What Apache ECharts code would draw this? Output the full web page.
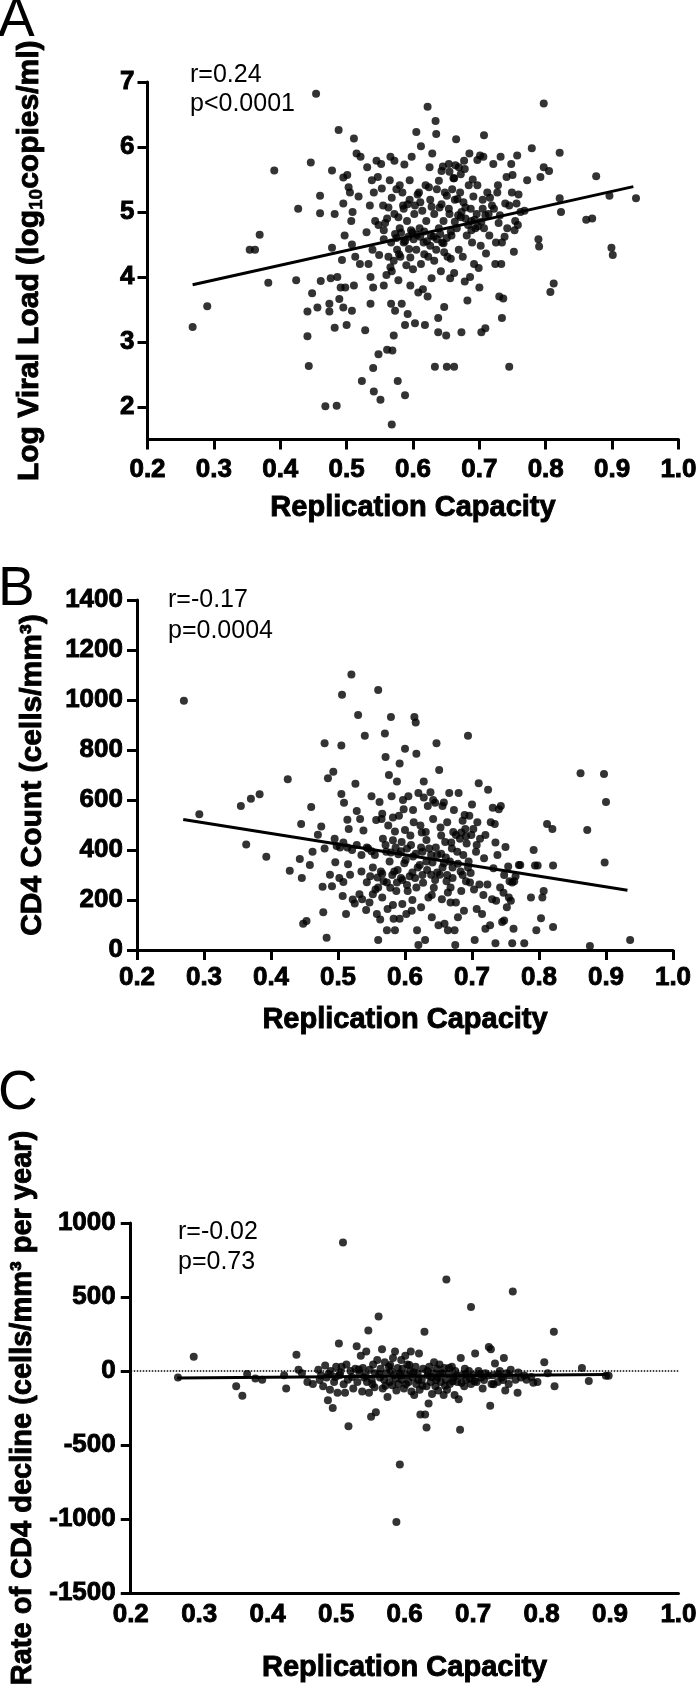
<!DOCTYPE html>
<html><head><meta charset="utf-8">
<script src="https://cdn.jsdelivr.net/npm/echarts@6/dist/echarts.min.js"></script>
<style>html,body{margin:0;padding:0;background:#fff}#c{width:700px;height:1699px}</style>
</head><body><div id="c"></div>
<script>
// ---------- tick labels ----------
const xTicks = [0.2, 0.3, 0.4, 0.5, 0.6, 0.7, 0.8, 0.9, 1.0];
const vlTicks = [2, 3, 4, 5, 6, 7];
const cd4Ticks = [0, 200, 400, 600, 800, 1000, 1200, 1400];
const declineTicks = [-1500, -1000, -500, 0, 500, 1000];

// ---------- Panel A: replication capacity vs log viral load ----------
const vlPoints = [
[0.268,3.23],[0.290,3.55],[0.354,4.42],[0.362,4.42],[0.369,4.65],[0.382,3.91],[0.391,5.64],[0.424,3.95],[0.427,5.05],
[0.441,3.09],[0.443,2.63],[0.441,3.47],[0.446,5.76],[0.448,3.75],[0.454,6.82],[0.456,3.53],[0.460,5.25],[0.460,4.98],
[0.461,3.94],[0.468,2.01],[0.474,3.59],[0.474,3.47],[0.476,3.98],[0.478,5.64],[0.478,4.45],[0.482,4.97],[0.482,3.22],
[0.485,2.02],[0.486,4.00],[0.488,6.26],[0.489,3.66],[0.491,3.84],[0.493,4.26],[0.495,5.13],[0.495,5.53],[0.495,3.53],
[0.497,4.64],[0.498,3.84],[0.500,3.26],[0.501,5.57],[0.503,5.38],[0.505,5.30],[0.507,4.86],[0.508,3.48],[0.508,4.50],
[0.509,5.00],[0.511,6.13],[0.511,3.87],[0.513,4.31],[0.515,5.90],[0.518,5.24],[0.520,4.20],[0.521,5.85],[0.523,2.40],
[0.541,2.24],[0.528,3.18],[0.530,4.69],[0.531,5.69],[0.533,4.20],[0.535,5.10],[0.536,4.00],[0.536,3.59],[0.538,5.49],
[0.539,4.42],[0.540,3.84],[0.540,2.60],[0.541,5.30],[0.543,4.86],[0.545,5.79],[0.547,5.54],[0.548,4.80],[0.548,2.81],
[0.549,4.34],[0.551,2.11],[0.552,5.74],[0.553,5.36],[0.555,5.10],[0.556,4.58],[0.556,3.87],[0.558,4.83],[0.560,4.03],
[0.561,2.88],[0.563,5.07],[0.563,4.31],[0.565,5.49],[0.566,5.85],[0.567,4.53],[0.567,3.59],[0.568,1.73],[0.568,4.09],
[0.569,2.87],[0.571,3.10],[0.572,5.79],[0.572,4.97],[0.573,4.66],[0.573,3.48],[0.575,5.35],[0.576,4.42],[0.577,2.40],
[0.578,4.92],[0.578,3.95],[0.580,5.41],[0.580,4.75],[0.581,4.31],[0.583,3.59],[0.585,5.10],[0.586,4.53],[0.587,5.73],
[0.588,2.18],[0.588,3.26],[0.590,4.18],[0.591,4.86],[0.592,3.43],[0.594,4.43],[0.595,5.19],[0.595,5.49],[0.596,3.87],
[0.598,5.85],[0.599,4.69],[0.600,4.12],[0.602,4.97],[0.603,3.29],[0.605,6.23],[0.605,4.42],[0.607,5.27],[0.608,3.76],
[0.610,4.75],[0.612,6.01],[0.612,4.20],[0.614,5.02],[0.615,3.81],[0.616,4.53],[0.618,3.26],[0.619,5.41],[0.620,4.86],
[0.622,6.62],[0.622,3.70],[0.623,4.31],[0.625,5.69],[0.626,5.19],[0.627,4.64],[0.628,3.98],[0.629,5.90],[0.632,4.97],
[0.633,2.62],[0.634,6.40],[0.635,6.20],[0.635,4.42],[0.636,5.35],[0.638,3.37],[0.638,3.15],[0.639,4.75],[0.640,5.07],
[0.642,4.09],[0.643,5.63],[0.644,4.53],[0.646,4.86],[0.647,3.54],[0.648,5.30],[0.650,3.10],[0.651,2.62],[0.652,4.31],
[0.654,5.74],[0.655,4.97],[0.656,3.98],[0.658,4.64],[0.661,5.52],[0.662,2.62],[0.662,4.06],[0.663,5.19],[0.665,6.12],
[0.666,4.75],[0.669,5.69],[0.669,4.42],[0.671,5.30],[0.672,4.92],[0.673,3.15],[0.675,4.31],[0.677,5.79],[0.678,3.93],
[0.679,5.07],[0.681,4.64],[0.682,3.64],[0.684,5.41],[0.685,5.90],[0.686,4.00],[0.688,4.86],[0.689,4.53],[0.691,5.24],
[0.692,4.20],[0.694,4.75],[0.696,4.97],[0.697,5.41],[0.699,4.14],[0.700,3.84],[0.701,5.87],[0.702,4.48],[0.703,3.15],
[0.705,5.19],[0.707,6.18],[0.707,4.75],[0.709,3.21],[0.710,4.36],[0.712,5.30],[0.714,4.97],[0.715,4.64],[0.719,5.10],
[0.721,5.74],[0.724,4.20],[0.725,4.53],[0.728,5.41],[0.729,4.83],[0.730,3.70],[0.732,5.85],[0.733,4.20],[0.734,4.53],
[0.734,3.37],[0.736,3.67],[0.739,5.13],[0.741,5.54],[0.742,4.75],[0.745,2.62],[0.748,5.74],[0.749,5.30],[0.750,5.57],
[0.752,4.39],[0.753,4.72],[0.754,4.86],[0.756,5.13],[0.757,5.87],[0.759,5.27],[0.762,5.00],[0.768,5.02],[0.772,5.49],
[0.779,5.98],[0.789,4.58],[0.790,4.47],[0.792,5.54],[0.797,5.69],[0.797,6.67],[0.805,5.63],[0.807,3.77],[0.812,3.90],
[0.821,5.91],[0.821,5.21],[0.823,5.00],[0.861,4.88],[0.870,4.90],[0.876,5.55],[0.896,5.25],[0.899,4.45],[0.901,4.34],
[0.936,5.21],
[0.575,4.60],[0.582,4.68],[0.588,4.55],[0.593,4.62],[0.597,4.72],[0.601,4.58],[0.606,4.65],[0.611,4.62],[0.617,4.70],
[0.621,4.55],[0.626,4.48],[0.631,4.62],[0.636,4.58],[0.641,4.66],[0.646,4.52],[0.651,4.60],[0.657,4.70],[0.663,4.85],
[0.668,4.95],[0.673,5.00],[0.679,4.90],[0.683,4.80],[0.688,4.72],[0.693,4.88],[0.698,4.78],[0.703,4.85],[0.709,4.95],
[0.586,5.05],[0.603,5.10],[0.611,5.15],[0.628,5.08],[0.643,5.12],[0.651,5.25],[0.659,5.35],[0.667,5.20],[0.676,5.15],
[0.687,5.05],[0.617,4.35],[0.632,4.25],[0.647,4.38],[0.657,4.28],[0.571,4.25],[0.566,4.15],[0.579,4.35],[0.596,4.30],
[0.556,4.72],[0.561,4.90],[0.568,5.22],[0.584,5.30],[0.592,5.12],[0.672,5.58],[0.678,5.66],[0.662,5.52],[0.654,5.05],
[0.639,5.48],[0.624,5.38],[0.609,5.30],[0.716,5.22],[0.722,5.05],[0.731,4.95],[0.738,4.62],[0.745,5.10],[0.758,4.80],
[0.727,5.30],[0.705,5.05],[0.690,5.50],[0.697,5.80],[0.706,5.85],[0.664,5.72],[0.655,5.62],[0.645,5.70]
];
const vlFit = [[0.268, 3.88], [0.932, 5.39]];

// ---------- Panel B: replication capacity vs CD4 count ----------
const cd4Points = [
[0.270,997],[0.293,543],[0.355,576],[0.370,605],[0.383,623],[0.363,422],[0.393,373],[0.425,683],[0.428,317],[0.443,364],
[0.445,504],[0.446,288],[0.448,105],[0.453,116],[0.458,340],[0.460,572],[0.462,393],[0.470,461],[0.475,494],[0.477,253],
[0.478,151],[0.480,827],[0.480,406],[0.483,49],[0.485,687],[0.488,301],[0.491,255],[0.493,713],[0.495,445],[0.496,351],
[0.498,416],[0.502,288],[0.505,818],[0.505,624],[0.506,1021],[0.507,216],[0.508,272],[0.509,589],[0.512,144],[0.514,521],
[0.515,343],[0.516,484],[0.518,301],[0.520,1102],[0.522,202],[0.525,186],[0.526,665],[0.528,556],[0.530,940],[0.532,223],
[0.533,524],[0.535,314],[0.536,203],[0.538,478],[0.540,857],[0.542,160],[0.543,271],[0.545,406],[0.547,190],[0.548,295],
[0.550,615],[0.552,223],[0.555,380],[0.556,242],[0.558,144],[0.560,1040],[0.560,40],[0.562,592],[0.563,122],[0.564,314],
[0.565,524],[0.566,210],[0.567,445],[0.568,275],[0.570,866],[0.571,772],[0.572,393],[0.573,79],[0.574,164],[0.575,498],
[0.576,700],[0.577,354],[0.578,249],[0.579,932],[0.580,615],[0.582,439],[0.583,125],[0.584,314],[0.585,79],[0.585,474],
[0.587,236],[0.588,674],[0.590,383],[0.591,537],[0.592,125],[0.592,746],[0.594,288],[0.595,432],[0.596,184],[0.598,563],
[0.599,347],[0.600,805],[0.602,144],[0.603,406],[0.604,236],[0.605,615],[0.607,295],[0.608,458],[0.610,157],[0.612,374],
[0.613,511],[0.614,932],[0.615,288],[0.616,910],[0.617,785],[0.618,79],[0.620,628],[0.620,20],[0.622,340],[0.623,498],
[0.624,171],[0.626,393],[0.627,269],[0.628,674],[0.630,40],[0.631,472],[0.632,354],[0.634,576],[0.635,210],[0.636,406],
[0.638,631],[0.639,301],[0.640,131],[0.642,524],[0.643,249],[0.645,589],[0.647,827],[0.648,380],[0.650,99],[0.651,720],
[0.652,301],[0.654,458],[0.655,203],[0.656,576],[0.658,347],[0.659,105],[0.660,432],[0.662,275],[0.663,511],[0.664,79],
[0.666,628],[0.667,354],[0.668,190],[0.670,406],[0.671,288],[0.672,472],[0.674,79],[0.675,20],[0.676,190],[0.678,393],
[0.679,131],[0.680,628],[0.682,445],[0.683,314],[0.684,236],[0.686,517],[0.687,380],[0.688,157],[0.690,484],[0.691,275],
[0.692,426],[0.694,857],[0.695,354],[0.696,537],[0.698,308],[0.700,582],[0.702,484],[0.703,242],[0.704,40],[0.706,393],
[0.707,164],[0.708,511],[0.710,667],[0.711,262],[0.712,445],[0.715,144],[0.718,367],[0.720,85],[0.723,262],[0.724,641],
[0.727,99],[0.728,511],[0.730,203],[0.731,569],[0.732,327],[0.734,504],[0.735,27],[0.736,197],[0.738,380],[0.740,563],
[0.743,576],[0.745,112],[0.747,229],[0.748,118],[0.750,412],[0.752,171],[0.754,334],[0.755,210],[0.756,275],[0.758,197],
[0.760,27],[0.762,85],[0.763,275],[0.765,295],[0.770,340],[0.772,340],[0.778,27],[0.788,210],[0.792,400],[0.794,338],
[0.796,79],[0.798,338],[0.803,127],[0.805,210],[0.807,236],[0.812,504],[0.820,484],[0.821,338],[0.821,92],[0.862,707],
[0.872,480],[0.876,16],[0.897,704],[0.898,350],[0.900,592],[0.936,40],
[0.552,330],[0.559,290],[0.566,305],[0.573,270],[0.581,300],[0.589,320],[0.596,280],[0.603,260],[0.611,310],[0.619,330],
[0.626,300],[0.633,320],[0.641,350],[0.648,310],[0.656,330],[0.663,300],[0.671,330],[0.679,345],[0.686,300],[0.694,330],
[0.571,420],[0.579,390],[0.586,410],[0.594,395],[0.601,360],[0.609,420],[0.616,385],[0.624,410],[0.632,440],[0.639,380],
[0.646,410],[0.654,385],[0.661,370],[0.669,430],[0.676,460],[0.684,470],[0.691,455],[0.699,460],[0.521,400],[0.528,420],
[0.535,380],[0.543,410],[0.550,395],[0.508,430],[0.514,410],[0.503,410],
[0.557,520],[0.566,545],[0.582,530],[0.597,600],[0.612,560],[0.628,610],[0.642,600],[0.658,590],[0.673,560],[0.689,540],
[0.560,250],[0.588,270],[0.617,250],[0.645,280],[0.668,250],[0.697,270],[0.582,180],[0.611,200],[0.640,220],[0.664,230],
[0.600,480],[0.625,470],[0.653,490],[0.707,420],[0.720,460],[0.735,430],[0.748,300],[0.760,270],[0.717,220],[0.742,250]
];
const cd4Fit = [[0.269, 522], [0.932, 239]];

// ---------- Panel C: replication capacity vs rate of CD4 decline ----------
const declinePoints = [
[0.269,-44],[0.292,97],[0.354,-103],[0.363,-168],[0.370,-21],[0.382,-50],[0.392,-59],[0.424,-29],[0.427,-118],[0.442,109],
[0.445,9],[0.450,-15],[0.458,-74],[0.466,-88],[0.474,9],[0.478,-29],[0.481,-103],[0.484,38],[0.486,-44],[0.488,-197],
[0.491,-126],[0.492,0],[0.495,-250],[0.497,-74],[0.500,29],[0.502,-147],[0.504,185],[0.505,-29],[0.506,-9],[0.508,29],
[0.510,868],[0.513,-147],[0.515,44],[0.517,-59],[0.518,-373],[0.521,0],[0.525,-118],[0.528,15],[0.530,168],[0.531,-74],
[0.534,-21],[0.536,103],[0.538,-138],[0.539,21],[0.541,-44],[0.544,132],[0.545,-74],[0.547,274],[0.548,-147],[0.549,9],
[0.551,-309],[0.552,-59],[0.554,44],[0.556,-109],[0.557,-15],[0.558,-279],[0.560,74],[0.562,368],[0.564,-44],[0.565,15],
[0.567,147],[0.568,-118],[0.570,-59],[0.571,59],[0.573,-15],[0.575,-176],[0.577,29],[0.578,-74],[0.580,0],[0.582,-97],
[0.583,88],[0.584,-29],[0.586,132],[0.588,-132],[0.588,-1021],[0.590,21],[0.591,-88],[0.593,-632],[0.593,-15],[0.595,74],
[0.596,-59],[0.597,15],[0.599,-118],[0.601,103],[0.603,-29],[0.604,44],[0.606,-74],[0.608,0],[0.609,132],[0.610,-138],
[0.612,-44],[0.614,-162],[0.616,29],[0.617,-88],[0.619,-15],[0.621,118],[0.622,-126],[0.623,-294],[0.625,-59],[0.627,15],
[0.629,265],[0.630,-294],[0.632,-382],[0.632,-103],[0.634,-29],[0.635,-220],[0.636,29],[0.638,-74],[0.640,-156],[0.642,-15],
[0.643,59],[0.645,-103],[0.647,15],[0.648,-44],[0.649,-132],[0.651,44],[0.653,-74],[0.655,-15],[0.657,-162],[0.658,21],
[0.660,-59],[0.661,618],[0.662,-126],[0.664,-21],[0.666,-88],[0.669,29],[0.671,-44],[0.673,-162],[0.674,0],[0.677,-74],
[0.679,-191],[0.681,-397],[0.682,88],[0.684,-29],[0.687,-103],[0.688,15],[0.690,-59],[0.694,0],[0.697,432],[0.697,-88],
[0.700,-29],[0.703,118],[0.705,-74],[0.708,0],[0.712,-44],[0.714,-118],[0.718,-15],[0.723,162],[0.725,-235],[0.726,147],
[0.727,-88],[0.729,-29],[0.732,50],[0.736,-74],[0.739,0],[0.742,-44],[0.745,88],[0.747,-132],[0.749,-15],[0.752,-88],
[0.755,9],[0.758,538],[0.762,-59],[0.765,-147],[0.770,-44],[0.778,-59],[0.788,-79],[0.794,-74],[0.804,59],[0.809,-15],
[0.818,265],[0.819,-103],[0.859,21],[0.869,-68],[0.894,-32],[0.898,-32],
[0.476,-60],[0.489,-20],[0.499,-40],[0.511,-90],[0.523,-40],[0.533,10],[0.543,-30],[0.553,-90],[0.563,-20],[0.572,-100],
[0.579,40],[0.587,-50],[0.594,-30],[0.602,-90],[0.607,40],[0.613,-10],[0.620,-60],[0.626,-100],[0.633,0],[0.639,-40],
[0.646,-60],[0.652,-20],[0.659,-100],[0.665,20],[0.670,-70],[0.676,-30],[0.683,-80],[0.689,-20],[0.695,-50],[0.702,-70],
[0.710,-20],[0.716,-60],[0.722,-30],[0.730,-90],[0.737,-20],[0.744,-60],[0.753,-30],[0.766,-10],[0.775,-30],[0.785,-40]
];
const declineFit = [[0.268, -48], [0.895, -24]];

// ---------- chart ----------
const FONT = '"Liberation Sans", Arial, Helvetica, sans-serif';
const chart = echarts.init(document.getElementById('c'), null, {renderer: 'canvas'});
const heavy = {textBorderColor: '#000', textBorderWidth: 0.9};

function xAxis(gridIndex, labelMargin, nameGap, showTicks) {
  return {
    type: 'value', gridIndex, min: 0.2, max: 1.0, interval: 0.1, position: 'bottom',
    axisLine: {show: true, onZero: false, lineStyle: {color: '#000', width: 3}},
    axisTick: {show: showTicks, length: 10, customValues: xTicks, lineStyle: {color: '#000', width: 3}},
    axisLabel: Object.assign({customValues: xTicks, formatter: v => Number(v).toFixed(1), margin: labelMargin,
      fontSize: 26, fontWeight: 'bold', color: '#000', fontFamily: FONT}, heavy),
    splitLine: {show: false},
    name: 'Replication Capacity', nameLocation: 'middle', nameGap,
    nameTextStyle: Object.assign({fontSize: 29, fontWeight: 'bold', color: '#000', fontFamily: FONT}, heavy)
  };
}
function yAxis(gridIndex, min, max, interval, ticks, labelMargin, name, nameGap, nameStyle) {
  return {
    type: 'value', gridIndex, min, max, interval, position: 'left',
    axisLine: {show: true, onZero: false, lineStyle: {color: '#000', width: 3}},
    axisTick: {show: true, length: 10, customValues: ticks, lineStyle: {color: '#000', width: 3}},
    axisLabel: Object.assign({customValues: ticks, formatter: v => String(v), margin: labelMargin,
      fontSize: 26, fontWeight: 'bold', color: '#000', fontFamily: FONT}, heavy),
    splitLine: {show: false},
    name, nameLocation: 'middle', nameGap, nameRotate: 90,
    nameTextStyle: Object.assign({fontSize: 30, fontWeight: 'bold', color: '#000', fontFamily: FONT}, heavy, nameStyle || {})
  };
}
function scatter(i, data) {
  return {type: 'scatter', xAxisIndex: i, yAxisIndex: i, data, symbol: 'circle', symbolSize: 8,
    itemStyle: {color: '#000'}, silent: true, z: 2};
}
function fit(i, data, extra) {
  return Object.assign({type: 'line', xAxisIndex: i, yAxisIndex: i, data, symbol: 'none',
    lineStyle: {color: '#000', width: 3}, silent: true, z: 3}, extra || {});
}
function txt(text, x, y, size, weight) {
  return {type: 'text', x, y, silent: true,
    style: {text, fill: '#000', font: (weight || 'normal') + ' ' + size + 'px ' + FONT,
      align: 'left', verticalAlign: 'middle', textAlign: 'left', textVerticalAlign: 'middle'}};
}

chart.setOption({
  animation: false,
  backgroundColor: '#fff',
  grid: [
    {left: 147.5, top: 82, width: 533.5, height: 357.5},
    {left: 137, top: 600, width: 536, height: 350},
    {left: 128.5, top: 1223, width: 551.5, height: 370}
  ],
  xAxis: [xAxis(0, 17, 54, true), xAxis(1, 15, 55, true), xAxis(2, 9, 60, false)],
  yAxis: [
    yAxis(0, 1.5, 7, 0.5, vlTicks, 13, 'Log Viral Load (log{sub|10}copies/ml)', 101,
      {lineHeight: 34, rich: {sub: {fontSize: 19, fontWeight: 'bold', fontFamily: FONT, color: '#000',
        verticalAlign: 'bottom', textBorderColor: '#000', textBorderWidth: 0.6}}}),
    yAxis(1, 0, 1400, 200, cd4Ticks, 14, 'CD4 Count (cells/mm³)', 89),
    yAxis(2, -1500, 1000, 500, declineTicks, 15, 'Rate of CD4 decline (cells/mm³ per year)', 89, {fontSize: 29})
  ],
  series: [
    scatter(0, vlPoints), fit(0, vlFit),
    scatter(1, cd4Points), fit(1, cd4Fit),
    scatter(2, declinePoints),
    fit(2, declineFit, {markLine: {silent: true, symbol: ['none', 'none'], label: {show: false},
      lineStyle: {type: 'dotted', color: '#000', width: 1.5}, data: [{yAxis: 0}]}})
  ],
  graphic: [
    txt('A', -2, 21, 55), txt('B', -2, 590, 55), txt('C', -2, 1094, 55),
    txt('r=0.24', 190, 75, 25), txt('p<0.0001', 190, 104, 25),
    txt('r=-0.17', 168, 600, 25), txt('p=0.0004', 168, 631, 25),
    txt('r=-0.02', 178, 1232, 25), txt('p=0.73', 178, 1262, 25)
  ]
});
</script></body></html>
